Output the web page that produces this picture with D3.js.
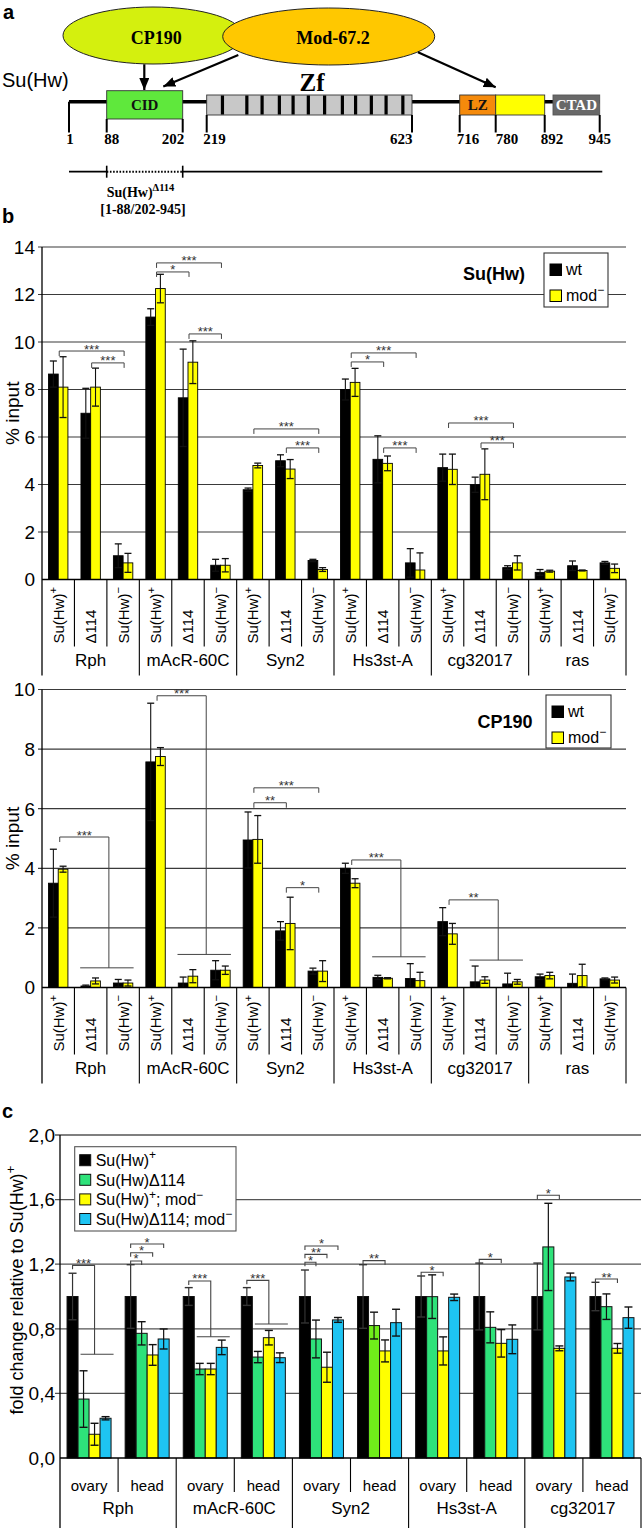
<!DOCTYPE html>
<html><head><meta charset="utf-8">
<script src="https://cdn.jsdelivr.net/npm/d3@7"></script>
<style>body{margin:0;background:#fff}svg{display:block}</style>
</head><body><svg id="fig" width="643" height="1528"></svg>
<script>
// ================= DATA =================
// Panel a: Su(Hw) protein map
const aaTicks = [1, 88, 202, 219, 623, 716, 780, 892, 945];
const domainNames = ["CID", "Zf", "LZ", "", "CTAD"];
const domainStart = [88, 219, 716, 780, 900];
const domainEnd   = [202, 623, 780, 892, 945];
const znFingers = [250, 298, 328, 362, 389, 419, 451, 486, 512, 543, 572, 605];

// Panel b
const genesB = ["Rph", "mAcR-60C", "Syn2", "Hs3st-A", "cg32017", "ras"];
const strainLabels = [["Su(Hw)", "+"], ["Δ114", ""], ["Su(Hw)", "−"]];
const seriesB = ["wt", "mod"];
const yTicksSuHw = [0, 2, 4, 6, 8, 10, 12, 14];
const yTicksCP = [0, 2, 4, 6, 8, 10];
// Su(Hw) ChIP (% input), gene-major, strain-minor
const suhwWt     = [8.65, 7.0, 1.0, 11.05, 7.65, 0.6, 3.78, 5.0, 0.8, 8.0, 5.06, 0.7, 4.71, 3.99, 0.5, 0.3, 0.58, 0.7];
const suhwWtErr  = [0.55, 1.05, 0.5, 0.35, 2.05, 0.25, 0.07, 0.25, 0.05, 0.44, 0.99, 0.6, 0.57, 0.32, 0.08, 0.12, 0.2, 0.06];
const suhwMod    = [8.1, 8.1, 0.7, 12.25, 9.15, 0.6, 4.8, 4.65, 0.42, 8.3, 4.89, 0.4, 4.64, 4.43, 0.7, 0.35, 0.38, 0.47];
const suhwModErr = [1.28, 0.8, 0.4, 0.6, 0.9, 0.28, 0.1, 0.4, 0.08, 0.59, 0.31, 0.72, 0.64, 1.07, 0.3, 0.04, 0.02, 0.18];
// CP190 ChIP (% input)
const cpWt     = [3.5, 0.05, 0.15, 7.57, 0.15, 0.58, 4.95, 1.9, 0.55, 4.0, 0.34, 0.3, 2.21, 0.19, 0.12, 0.36, 0.14, 0.29];
const cpWtErr  = [1.14, 0.03, 0.12, 1.97, 0.2, 0.32, 0.94, 0.31, 0.1, 0.17, 0.07, 0.5, 0.47, 0.53, 0.36, 0.09, 0.31, 0.03];
const cpMod    = [3.97, 0.22, 0.15, 7.75, 0.38, 0.58, 4.97, 2.15, 0.55, 3.5, 0.31, 0.23, 1.8, 0.25, 0.19, 0.4, 0.4, 0.25];
const cpModErr = [0.1, 0.1, 0.1, 0.3, 0.22, 0.14, 0.8, 0.88, 0.35, 0.15, 0.02, 0.28, 0.35, 0.11, 0.08, 0.11, 0.38, 0.1];
// significance brackets (strain index from -> to, height in data units)
const suhwBrackets = [
  {gene: "Rph", from: 0, to: 2, y: 9.62, label: "***"},
  {gene: "Rph", from: 1, to: 2, y: 9.12, label: "***"},
  {gene: "mAcR-60C", from: 0, to: 2, y: 13.33, label: "***"},
  {gene: "mAcR-60C", from: 0, to: 1, y: 12.95, label: "*"},
  {gene: "mAcR-60C", from: 1, to: 2, y: 10.34, label: "***"},
  {gene: "Syn2", from: 0, to: 2, y: 6.34, label: "***"},
  {gene: "Syn2", from: 1, to: 2, y: 5.54, label: "***"},
  {gene: "Hs3st-A", from: 0, to: 2, y: 9.54, label: "***"},
  {gene: "Hs3st-A", from: 0, to: 1, y: 9.16, label: "*"},
  {gene: "Hs3st-A", from: 1, to: 2, y: 5.54, label: "***"},
  {gene: "cg32017", from: 0, to: 2, y: 6.59, label: "***"},
  {gene: "cg32017", from: 1, to: 2, y: 5.75, label: "***"}
];
const cpBrackets = [
  {gene: "Syn2", from: 0, to: 2, y: 6.70, label: "***"},
  {gene: "Syn2", from: 0, to: 1, y: 6.20, label: "**"},
  {gene: "Syn2", from: 1, to: 2, y: 3.35, label: "*"}
];
const cpGroupBrackets = [
  {gene: "Rph", y: 5.05, base: 0.66, label: "***"},
  {gene: "mAcR-60C", y: 9.79, base: 1.11, label: "***"},
  {gene: "Hs3st-A", y: 4.28, base: 1.03, label: "***"},
  {gene: "cg32017", y: 2.94, base: 0.92, label: "**"}
];

// Panel c: fold change relative to Su(Hw)+
const genesC = ["Rph", "mAcR-60C", "Syn2", "Hs3st-A", "cg32017"];
const tissues = ["ovary", "head"];
const seriesC = ["Su(Hw)+", "Su(Hw)Δ114", "Su(Hw)+; mod−", "Su(Hw)Δ114; mod−"];
const yTicksC = [0, 0.4, 0.8, 1.2, 1.6, 2.0];
const wtC        = [1, 1, 1, 1, 1, 1, 1, 1, 1, 1];
const wtCErr     = [0.144, 0.197, 0.055, 0.055, 0.164, 0.197, 0.127, 0.207, 0.207, 0.088];
const d114C      = [0.365, 0.772, 0.551, 0.625, 0.737, 0.82, 0.999, 0.809, 1.307, 0.937];
const d114CErr   = [0.175, 0.072, 0.035, 0.035, 0.117, 0.083, 0.135, 0.096, 0.27, 0.079];
const modC       = [0.147, 0.638, 0.551, 0.745, 0.562, 0.663, 0.663, 0.71, 0.679, 0.679];
const modCErr    = [0.068, 0.064, 0.035, 0.045, 0.093, 0.068, 0.087, 0.085, 0.015, 0.03];
const d114modC   = [0.246, 0.737, 0.685, 0.621, 0.855, 0.838, 0.995, 0.735, 1.121, 0.869];
const d114modCErr= [0.01, 0.062, 0.045, 0.03, 0.015, 0.083, 0.02, 0.089, 0.024, 0.066];
const cBrackets = [
  {gene: "Rph", tissue: "head", from: 0, to: 1, y: 1.22, label: "*"},
  {gene: "Rph", tissue: "head", from: 0, to: 2, y: 1.271, label: "*"},
  {gene: "Rph", tissue: "head", from: 0, to: 3, y: 1.325, label: "*"},
  {gene: "Syn2", tissue: "ovary", from: 0, to: 1, y: 1.212, label: "*"},
  {gene: "Syn2", tissue: "ovary", from: 0, to: 2, y: 1.261, label: "**"},
  {gene: "Syn2", tissue: "ovary", from: 0, to: 3, y: 1.313, label: "*"},
  {gene: "Syn2", tissue: "head", from: 0, to: 2, y: 1.222, label: "**"},
  {gene: "Hs3st-A", tissue: "ovary", from: 0, to: 2, y: 1.15, label: "*"},
  {gene: "Hs3st-A", tissue: "head", from: 0, to: 2, y: 1.23, label: "*"},
  {gene: "cg32017", tissue: "ovary", from: 0, to: 2, y: 1.627, label: "*"},
  {gene: "cg32017", tissue: "head", from: 0, to: 2, y: 1.108, label: "**"}
];
const cGroupBrackets = [
  {gene: "Rph", tissue: "ovary", y: 1.193, base: 0.642, label: "***"},
  {gene: "mAcR-60C", tissue: "ovary", y: 1.096, base: 0.751, label: "***"},
  {gene: "mAcR-60C", tissue: "head", y: 1.10, base: 0.83, label: "***"}
];

// ================= STYLE / LAYOUT =================
const SANS = '"Liberation Sans", Arial, sans-serif';
const SERIF = '"Liberation Serif", "Times New Roman", serif';
const svg = d3.select("#fig");
const YELLOW = "#ffff00";
const colorsC = ["#000000", "#2ee27a", "#ffff00", "#1ec4f2"];
const limeBar = {gene: "Syn2", tissue: "head", series: 1, color: "#70ee1a"};

function rich(textSel, parts, fs) {
  let raised = false;
  parts.forEach(([t, sup]) => {
    if (!t) return;
    const ts = textSel.append("tspan").text(t);
    if (sup) {
      ts.attr("font-size", fs * 0.75);
      if (!raised) { ts.attr("dy", -fs * 0.42); raised = true; }
    } else if (raised) { ts.attr("dy", fs * 0.42); raised = false; }
  });
}

// ================= PANEL A =================
(function panelA() {
  const A = svg.append("g");
  const aaRange = [69, 106.7, 182.7, 206.7, 412, 459.7, 495.7, 544.7, 599.7];
  const aa = d3.scaleLinear().domain(aaTicks).range(aaRange);
  const labelDx = [1, -2.5, 1.5, -3.5, 0.5, -3, 0, -4, 0];
  const labelAnchor = ["middle", "start", "end", "start", "end", "start", "start", "start", "middle"];
  const tickTop = [101.7, 119, 119, 115, 115, 115, 115, 115, 115];
  const domFill = ["#5fe83c", "#c8c8c8", "#f58a0b", "#ffff00", "#686868"];
  const domY0 = [90.7, 95, 95, 95, 95], domY1 = [119, 115, 115, 115, 115];
  const domTextColor = ["#111", "#000", "#111", "#000", "#fff"];

  A.append("text").attr("x", 3).attr("y", 18.5).attr("font-family", SANS)
    .attr("font-weight", "bold").attr("font-size", 20).text("a");

  const defs = svg.append("defs");
  defs.append("marker").attr("id", "arr").attr("viewBox", "0 0 12 10")
    .attr("markerUnits", "userSpaceOnUse").attr("markerWidth", 12).attr("markerHeight", 10)
    .attr("refX", 12).attr("refY", 5).attr("orient", "auto")
    .append("path").attr("d", "M0,0 L12,5 L0,10 Z").attr("fill", "#000");

  A.append("ellipse").attr("cx", 153).attr("cy", 35.5).attr("rx", 90).attr("ry", 28.5)
    .attr("fill", "#d4f00e").attr("stroke", "#222").attr("stroke-width", 1);
  A.append("ellipse").attr("cx", 328.7).attr("cy", 36.5).attr("rx", 106).attr("ry", 28.5)
    .attr("fill", "#ffc800").attr("stroke", "#222").attr("stroke-width", 1);
  A.append("text").attr("x", 156.3).attr("y", 44).attr("text-anchor", "middle")
    .attr("font-family", SERIF).attr("font-weight", "bold").attr("font-size", 18).text("CP190");
  A.append("text").attr("x", 333).attr("y", 44).attr("text-anchor", "middle")
    .attr("font-family", SERIF).attr("font-weight", "bold").attr("font-size", 18).text("Mod-67.2");

  A.append("text").attr("x", 2).attr("y", 87).attr("font-family", SANS)
    .attr("font-size", 20).text("Su(Hw)");

  // backbone
  A.append("line").attr("x1", aa(1)).attr("x2", aa(945)).attr("y1", 101.7).attr("y2", 101.7)
    .attr("stroke", "#000").attr("stroke-width", 3.6);

  // domains
  domainNames.forEach((n, i) => {
    const x0 = aa(domainStart[i]), x1 = aa(domainEnd[i]);
    A.append("rect").attr("x", x0).attr("y", domY0[i]).attr("width", x1 - x0)
      .attr("height", domY1[i] - domY0[i]).attr("fill", domFill[i])
      .attr("stroke", i === 4 ? "#555" : "#333").attr("stroke-width", 0.9);
    if (n && n !== "Zf") {
      A.append("text").attr("x", (x0 + x1) / 2).attr("y", (domY0[i] + domY1[i]) / 2 + 5.3)
        .attr("text-anchor", "middle").attr("font-family", SERIF).attr("font-weight", "bold")
        .attr("font-size", 15).attr("fill", domTextColor[i]).text(n);
    }
  });
  A.selectAll(".zn").data(znFingers).join("rect")
    .attr("x", d => aa(d) - 1.6).attr("width", 3.2).attr("y", 95.5).attr("height", 19)
    .attr("fill", "#000");
  A.append("text").attr("x", 312).attr("y", 91).attr("text-anchor", "middle")
    .attr("font-family", SERIF).attr("font-weight", "bold").attr("font-size", 25).text("Zf");

  // ticks and labels
  aaTicks.forEach((t, i) => {
    A.append("line").attr("x1", aa(t)).attr("x2", aa(t)).attr("y1", tickTop[i]).attr("y2", 132.5)
      .attr("stroke", "#000").attr("stroke-width", 2);
    A.append("text").attr("x", aa(t) + labelDx[i]).attr("y", 143.5).attr("text-anchor", labelAnchor[i])
      .attr("font-family", SERIF).attr("font-weight", "bold").attr("font-size", 15).text(t);
  });

  // arrows
  const arrows = [[144.3, 64.3, 144.3, 90], [238.3, 55, 163.3, 86.5], [418, 52.3, 495.7, 87.3]];
  arrows.forEach(a => A.append("line").attr("x1", a[0]).attr("y1", a[1]).attr("x2", a[2]).attr("y2", a[3])
    .attr("stroke", "#000").attr("stroke-width", 2.2).attr("marker-end", "url(#arr)"));

  // deletion construct line
  const ly = 171.7;
  A.append("line").attr("x1", aa(1)).attr("x2", aa(88)).attr("y1", ly).attr("y2", ly).attr("stroke", "#000").attr("stroke-width", 1.8);
  A.append("line").attr("x1", aa(88)).attr("x2", aa(202)).attr("y1", ly).attr("y2", ly).attr("stroke", "#000")
    .attr("stroke-width", 2).attr("stroke-dasharray", "1.6,1.6");
  A.append("line").attr("x1", aa(202)).attr("x2", 602.3).attr("y1", ly).attr("y2", ly).attr("stroke", "#000").attr("stroke-width", 1.8);
  [88, 202].forEach(t => A.append("line").attr("x1", aa(t)).attr("x2", aa(t)).attr("y1", ly - 6).attr("y2", ly + 6)
    .attr("stroke", "#000").attr("stroke-width", 1.6));
  const lt = A.append("text").attr("x", aa(88)).attr("y", 197).attr("font-family", SERIF)
    .attr("font-weight", "bold").attr("font-size", 14);
  rich(lt, [["Su(Hw)", false], ["Δ114", true]], 14);
  A.append("text").attr("x", 143).attr("y", 213.5).attr("text-anchor", "middle").attr("font-family", SERIF)
    .attr("font-weight", "bold").attr("font-size", 14).text("[1-88/202-945]");
})();

// ================= PANEL B =================
svg.append("text").attr("x", 2).attr("y", 223).attr("font-family", SANS)
  .attr("font-weight", "bold").attr("font-size", 20).text("b");

function starLabel(g, x, y, label) {
  g.append("text").attr("x", x).attr("y", y + 3.5).attr("text-anchor", "middle")
    .attr("font-family", SANS).attr("font-size", 13).attr("fill", "#333").text(label);
}

function chartB(o) {
  const g = svg.append("g");
  const keys = genesB.flatMap(gn => strainLabels.map((s, i) => gn + "|" + i));
  const x = d3.scaleBand().domain(keys).range([o.x0, o.x1]);
  const xs = d3.scaleBand().domain(seriesB).range([0, x.bandwidth()]).paddingOuter(0.672);
  const y = d3.scaleLinear().domain([0, o.ticks[o.ticks.length - 1]]).range([o.yBottom, o.yTop]);
  const cx = (gene, si) => x(gene + "|" + si) + x.bandwidth() / 2;

  // grid + ticks
  g.selectAll(".grid").data(o.ticks.slice(1)).join("line")
    .attr("x1", o.x0 - 4).attr("x2", o.x1).attr("y1", d => y(d)).attr("y2", d => y(d))
    .attr("stroke", "#3a3a3a").attr("stroke-width", 1.2);
  g.selectAll(".tl").data(o.ticks).join("text")
    .attr("x", o.x0 - 7).attr("y", d => y(d)).attr("dy", "0.36em").attr("text-anchor", "end")
    .attr("font-family", SANS).attr("font-size", 19).text(d => d);
  g.append("text").attr("transform", `translate(19,${(o.yTop + o.yBottom) / 2}) rotate(-90)`)
    .attr("text-anchor", "middle").attr("font-family", SANS).attr("font-size", 19).text("% input");

  // bars
  const rows = keys.map((k, i) => ({k, i}));
  const specs = [["wt", o.wt, o.wtErr, "#000"], ["mod", o.mod, o.modErr, YELLOW]];
  specs.forEach(([s, vals, errs, col]) => {
    g.selectAll(".b" + s).data(rows).join("rect")
      .attr("x", d => x(d.k) + xs(s)).attr("width", xs.bandwidth())
      .attr("y", d => y(vals[d.i])).attr("height", d => y(0) - y(vals[d.i]))
      .attr("fill", col).attr("stroke", "#000").attr("stroke-width", 0.9);
  });
  specs.forEach(([s, vals, errs]) => {
    rows.forEach(d => {
      const bx = x(d.k) + xs(s) + xs.bandwidth() / 2;
      const top = y(vals[d.i] + errs[d.i]), bot = y(Math.max(0, vals[d.i] - errs[d.i]));
      g.append("line").attr("x1", bx).attr("x2", bx).attr("y1", top).attr("y2", bot).attr("stroke", "#111").attr("stroke-width", 1.1);
      g.append("line").attr("x1", bx - 3.5).attr("x2", bx + 3.5).attr("y1", top).attr("y2", top).attr("stroke", "#111").attr("stroke-width", 1.3);
      if (vals[d.i] - errs[d.i] > 0)
        g.append("line").attr("x1", bx - 3.5).attr("x2", bx + 3.5).attr("y1", bot).attr("y2", bot).attr("stroke", "#111").attr("stroke-width", 1.3);
    });
  });

  // axes
  g.append("line").attr("x1", o.x0).attr("x2", o.x0).attr("y1", o.yTop).attr("y2", o.yBottom + 96)
    .attr("stroke", "#000").attr("stroke-width", 1.3);
  g.append("line").attr("x1", o.x0).attr("x2", o.x1).attr("y1", o.yBottom).attr("y2", o.yBottom)
    .attr("stroke", "#000").attr("stroke-width", 1.3);
  d3.range(1, keys.length + 1).forEach(k => {
    const xx = o.x0 + k * x.step();
    g.append("line").attr("x1", xx).attr("x2", xx).attr("y1", o.yBottom)
      .attr("y2", o.yBottom + (k % 3 === 0 ? 96 : 67)).attr("stroke", "#000").attr("stroke-width", 1.1);
  });
  rows.forEach(d => {
    const si = d.i % 3;
    const t = g.append("text")
      .attr("transform", `translate(${x(d.k) + x.bandwidth() / 2},${o.yBottom + 64}) rotate(-90)`)
      .attr("dy", "0.36em").attr("font-family", SANS).attr("font-size", 15);
    rich(t, [[strainLabels[si][0], false], [strainLabels[si][1], true]], 15);
  });
  genesB.forEach(gn => {
    g.append("text").attr("x", cx(gn, 1)).attr("y", o.yBottom + 86).attr("text-anchor", "middle")
      .attr("font-family", SANS).attr("font-size", 17).text(gn);
  });

  // title + legend
  g.append("text").attr("x", o.titleX).attr("y", o.titleY).attr("text-anchor", "middle")
    .attr("font-family", SANS).attr("font-weight", "bold").attr("font-size", 18).text(o.title);
  const L = o.legend;
  g.append("rect").attr("x", L.x).attr("y", L.y).attr("width", L.w).attr("height", L.h)
    .attr("fill", "#fff").attr("stroke", "#333").attr("stroke-width", 1.1);
  [["wt", "#000", ""], ["mod", YELLOW, "−"]].forEach(([lab, col, sup], i) => {
    const yy = L.y + 11 + i * 26;
    g.append("rect").attr("x", L.x + 6).attr("y", yy).attr("width", 11.5).attr("height", 11.5)
      .attr("fill", col).attr("stroke", "#000").attr("stroke-width", 1);
    const t = g.append("text").attr("x", L.x + 22).attr("y", yy + 11).attr("font-family", SANS).attr("font-size", 16);
    rich(t, [[lab, false], [sup, true]], 16);
  });

  // brackets
  const bc = "#444";
  o.brackets.forEach(b => {
    const xa = cx(b.gene, b.from) + 1, xb = cx(b.gene, b.to) + 1, yy = y(b.y);
    g.append("path").attr("d", `M${xa},${yy + 5}V${yy}H${xb}V${yy + 5}`)
      .attr("fill", "none").attr("stroke", bc).attr("stroke-width", 1);
    starLabel(g, (xa + xb) / 2, yy - 1, b.label);
  });
  o.groupBrackets.forEach(b => {
    const xa = cx(b.gene, 0) + 1.5;
    const xm = (cx(b.gene, 1) + cx(b.gene, 2)) / 2 + 2;
    const yy = y(b.y), yb = y(b.base);
    g.append("path").attr("d", `M${xa},${yy + 5}V${yy}H${xm}V${yb}`)
      .attr("fill", "none").attr("stroke", bc).attr("stroke-width", 1);
    g.append("line").attr("x1", cx(b.gene, 1) - 10.5).attr("x2", cx(b.gene, 2) + 10.5)
      .attr("y1", yb).attr("y2", yb).attr("stroke", bc).attr("stroke-width", 1);
    starLabel(g, (xa + xm) / 2, yy - 1, b.label);
  });
}

chartB({x0: 42, x1: 626, yTop: 247, yBottom: 579.5, ticks: yTicksSuHw,
  wt: suhwWt, wtErr: suhwWtErr, mod: suhwMod, modErr: suhwModErr,
  title: "Su(Hw)", titleX: 494, titleY: 280,
  legend: {x: 544, y: 253, w: 64, h: 54},
  brackets: suhwBrackets, groupBrackets: []});
chartB({x0: 42, x1: 626, yTop: 689.5, yBottom: 987.5, ticks: yTicksCP,
  wt: cpWt, wtErr: cpWtErr, mod: cpMod, modErr: cpModErr,
  title: "CP190", titleX: 505, titleY: 728,
  legend: {x: 546, y: 695, w: 65, h: 53},
  brackets: cpBrackets, groupBrackets: cpGroupBrackets});

// ================= PANEL C =================
(function panelC() {
  const g = svg.append("g");
  g.append("text").attr("x", 2).attr("y", 1118).attr("font-family", SANS)
    .attr("font-weight", "bold").attr("font-size", 20).text("c");
  const x0 = 60, x1 = 641, yTop = 1135, yBottom = 1458;
  const keys = genesC.flatMap(gn => tissues.map(t => gn + "|" + t));
  const x = d3.scaleBand().domain(keys).range([x0, x1]);
  const xs = d3.scaleBand().domain(d3.range(4)).range([0, x.bandwidth()]).paddingOuter(0.64);
  const y = d3.scaleLinear().domain([0, 2]).range([yBottom, yTop]);
  const fmt = d => d3.format(".1f")(d).replace(".", ",");
  const bcx = (gene, tissue, s) => x(gene + "|" + tissue) + xs(s) + xs.bandwidth() / 2;

  g.selectAll(".grid").data(yTicksC.slice(1)).join("line")
    .attr("x1", x0 - 5).attr("x2", x1).attr("y1", d => y(d)).attr("y2", d => y(d))
    .attr("stroke", "#555").attr("stroke-width", 1.3);
  g.selectAll(".tl").data(yTicksC).join("text")
    .attr("x", x0 - 5).attr("y", d => y(d)).attr("dy", "0.36em").attr("text-anchor", "end")
    .attr("font-family", SANS).attr("font-size", 19).text(fmt);
  const yl = g.append("text").attr("transform", `translate(23,1290) rotate(-90)`)
    .attr("text-anchor", "middle").attr("font-family", SANS).attr("font-size", 18);
  rich(yl, [["fold change relative to Su(Hw)", false], ["+", true]], 18);

  const vals = [wtC, d114C, modC, d114modC];
  const errs = [wtCErr, d114CErr, modCErr, d114modCErr];
  const rows = keys.map((k, i) => ({k, i, gene: k.split("|")[0], tissue: k.split("|")[1]}));
  d3.range(4).forEach(s => {
    g.selectAll(".s" + s).data(rows).join("rect")
      .attr("x", d => x(d.k) + xs(s)).attr("width", xs.bandwidth())
      .attr("y", d => y(vals[s][d.i])).attr("height", d => y(0) - y(vals[s][d.i]))
      .attr("fill", d => (d.gene === limeBar.gene && d.tissue === limeBar.tissue && s === limeBar.series) ? limeBar.color : colorsC[s])
      .attr("stroke", "#111").attr("stroke-width", 1);
  });
  d3.range(4).forEach(s => {
    rows.forEach(d => {
      const bx = x(d.k) + xs(s) + xs.bandwidth() / 2;
      const v = vals[s][d.i], e = errs[s][d.i];
      const top = y(v + e), bot = y(Math.max(0, v - e));
      const col = s === 0 ? "#333" : "#111";
      g.append("line").attr("x1", bx).attr("x2", bx).attr("y1", top).attr("y2", bot).attr("stroke", col).attr("stroke-width", 1.2);
      g.append("line").attr("x1", bx - 4).attr("x2", bx + 4).attr("y1", top).attr("y2", top).attr("stroke", col).attr("stroke-width", 1.4);
      g.append("line").attr("x1", bx - 4).attr("x2", bx + 4).attr("y1", bot).attr("y2", bot).attr("stroke", col).attr("stroke-width", 1.4);
    });
  });

  // axes
  g.append("line").attr("x1", x0).attr("x2", x0).attr("y1", yTop).attr("y2", 1528)
    .attr("stroke", "#000").attr("stroke-width", 1.3);
  g.append("line").attr("x1", x0).attr("x2", x1).attr("y1", yBottom).attr("y2", yBottom)
    .attr("stroke", "#000").attr("stroke-width", 1.3);
  d3.range(1, keys.length + 1).forEach(k => {
    const xx = x0 + k * x.step();
    g.append("line").attr("x1", xx).attr("x2", xx).attr("y1", yBottom)
      .attr("y2", k % 2 === 0 ? 1528 : 1492).attr("stroke", "#000").attr("stroke-width", 1.1);
  });
  rows.forEach(d => g.append("text").attr("x", x(d.k) + x.bandwidth() / 2).attr("y", 1490.5)
    .attr("text-anchor", "middle").attr("font-family", SANS).attr("font-size", 15).text(d.tissue));
  genesC.forEach(gn => g.append("text").attr("x", x(gn + "|head")).attr("y", 1514)
    .attr("text-anchor", "middle").attr("font-family", SANS).attr("font-size", 17).text(gn));

  // legend
  const L = {x: 74.7, y: 1146.7, w: 161.3, h: 84.3};
  g.append("rect").attr("x", L.x).attr("y", L.y).attr("width", L.w).attr("height", L.h)
    .attr("fill", "#fff").attr("stroke", "#555").attr("stroke-width", 1.1);
  const legParts = [
    [["Su(Hw)", false], ["+", true]],
    [["Su(Hw)Δ114", false]],
    [["Su(Hw)", false], ["+", true], ["; mod", false], ["−", true]],
    [["Su(Hw)Δ114; mod", false], ["−", true]]
  ];
  legParts.forEach((p, i) => {
    const yy = L.y + 8 + i * 19.6;
    g.append("rect").attr("x", L.x + 5).attr("y", yy).attr("width", 11).attr("height", 11)
      .attr("fill", colorsC[i]).attr("stroke", "#111").attr("stroke-width", 1);
    const t = g.append("text").attr("x", L.x + 21).attr("y", yy + 11.5).attr("font-family", SANS).attr("font-size", 16);
    rich(t, p, 16);
  });

  // brackets
  const bc = "#444";
  cBrackets.forEach(b => {
    const xa = bcx(b.gene, b.tissue, b.from), xb = bcx(b.gene, b.tissue, b.to), yy = y(b.y);
    g.append("path").attr("d", `M${xa},${yy + 4}V${yy}H${xb}V${yy + 4}`)
      .attr("fill", "none").attr("stroke", bc).attr("stroke-width", 1.1);
    starLabel(g, (xa + xb) / 2, yy - 1, b.label);
  });
  cGroupBrackets.forEach(b => {
    const xa = bcx(b.gene, b.tissue, 0), xm = bcx(b.gene, b.tissue, 2);
    const yy = y(b.y), yb = y(b.base);
    g.append("path").attr("d", `M${xa},${yy + 4}V${yy}H${xm}V${yb}`)
      .attr("fill", "none").attr("stroke", bc).attr("stroke-width", 1.1);
    g.append("line").attr("x1", bcx(b.gene, b.tissue, 1) - 3).attr("x2", bcx(b.gene, b.tissue, 3) + 8)
      .attr("y1", yb).attr("y2", yb).attr("stroke", bc).attr("stroke-width", 1.1);
    starLabel(g, (xa + xm) / 2, yy - 1, b.label);
  });
})();
</script></body></html>
